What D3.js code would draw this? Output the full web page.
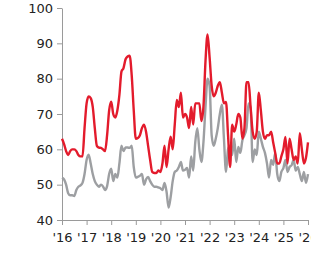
<!DOCTYPE html>
<html>
  <head>
    <style>
      body { margin: 0; background: #fff; }
      svg text { font-family: "DejaVu Sans", Verdana, sans-serif; font-size: 13px; fill: #222; }
      .axis path, .axis line { stroke: #9a9a9a; }
    </style>
  </head>
  <body>
    <div id="chart"></div>
    <script src="https://d3js.org/d3.v7.min.js"></script>
    <script>
      // monthly readings, Jan 2016 .. Jan 2026
      const startYear = 2016
      const yearTicks = [2016, 2017, 2018, 2019, 2020, 2021, 2022, 2023, 2024, 2025, 2026]
      const valueTicks = [40, 50, 60, 70, 80, 90, 100]

      const redSeries = [
        63, 61.5, 59.5, 58.4, 59.5, 60, 60, 59.5, 58.4, 58, 58, 66,
        73, 75, 74.5, 72, 66, 61, 60.5, 60.4, 60, 59.5, 64, 71,
        73.5, 70, 69, 71, 75.4, 82, 83, 85.5, 86.3, 86.5, 81, 71,
        63, 63.2, 64, 66, 67, 65, 61, 57, 53.6, 53.3, 53.3, 54,
        53.6, 56, 61, 55, 60, 63.6, 60, 67, 74, 72, 76, 69,
        70, 69, 66, 72, 67, 73, 73, 73, 68, 72, 85, 92.5,
        86, 78, 75, 76, 78, 79, 76, 73, 73.4, 64, 55, 67,
        65, 67, 70, 69, 63, 66, 79, 79, 72, 65, 63, 65,
        76, 71, 65, 63, 64, 64, 65, 62, 59, 56, 56, 58,
        60, 63.5, 56, 63, 60, 57, 58, 56, 64.6, 60, 56, 57.6,
        62
      ]

      const graySeries = [
        52, 51.5, 50, 47.6, 47, 47, 46.8, 48.5, 49.4, 49.8, 50.5, 53,
        57, 58.5, 56, 53, 51, 50, 49.4, 50, 49.5, 48.5, 49.6, 53,
        54.5, 51, 53, 52, 56, 61, 59.5, 60.5, 60.5, 60.4, 61, 55,
        52, 52.2, 52.5, 53, 50, 51.5, 52.2, 51, 50, 49.4, 49.4, 49.2,
        49, 48.5, 50.5, 48, 43.5, 46.5, 51, 53.6, 54, 55, 56.4, 54,
        54.2, 54.7, 52, 58, 54, 62, 66, 60, 56.4, 62, 72, 80,
        78, 64, 61, 63, 66, 70, 72.6, 63, 53.6, 60, 61, 58.4,
        63, 56.4, 60.7, 59, 62.6, 64, 66, 73, 71.7, 56.4, 60, 58.4,
        65, 63, 60.7, 59, 56, 52, 57, 55.6, 59, 53, 51, 53.6,
        54.7, 57, 53.6, 55, 55.5, 57, 54, 55, 53, 51, 53.6, 50.5,
        53
      ]

      const width = 311, height = 253
      const margin = { top: 8, right: 3, bottom: 33, left: 62 }

      const svg = d3.select("#chart")
        .append("svg")
        .attr("width", width)
        .attr("height", height)

      const x = d3.scaleLinear()
        .domain([yearTicks[0], yearTicks[yearTicks.length - 1]])
        .range([margin.left, width - margin.right])

      const y = d3.scaleLinear()
        .domain([valueTicks[0], valueTicks[valueTicks.length - 1]])
        .range([height - margin.bottom, margin.top])

      svg.append("g")
        .attr("class", "axis")
        .attr("transform", "translate(0," + (height - margin.bottom) + ")")
        .call(d3.axisBottom(x).tickValues(yearTicks).tickSize(5).tickSizeOuter(0)
          .tickFormat(d => "'" + String(d).slice(2)))
        .call(g => g.selectAll("text").attr("dy", "1.05em"))

      svg.append("g")
        .attr("class", "axis")
        .attr("transform", "translate(" + margin.left + ",0)")
        .call(d3.axisLeft(y).tickValues(valueTicks).tickSize(5).tickSizeOuter(0))
        .call(g => g.selectAll("text").attr("x", -9))

      const line = d3.line()
        .x((d, i) => x(startYear + i / 12))
        .y(d => y(d))
        .curve(d3.curveMonotoneX)

      svg.append("path")
        .attr("fill", "none")
        .attr("stroke", "#9d9fa2")
        .attr("stroke-width", 2.4)
        .attr("stroke-linejoin", "round")
        .attr("d", line(graySeries))

      svg.append("path")
        .attr("fill", "none")
        .attr("stroke", "#e31b2c")
        .attr("stroke-width", 2.4)
        .attr("stroke-linejoin", "round")
        .attr("d", line(redSeries))
    </script>
  </body>
</html>
